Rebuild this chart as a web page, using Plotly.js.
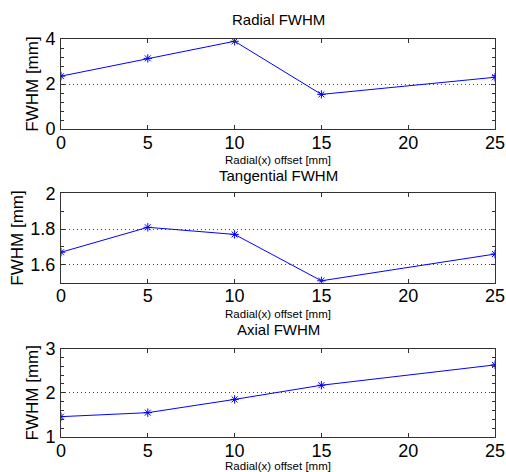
<!DOCTYPE html>
<html>
<head>
<meta charset="utf-8">
<script src="https://cdn.plot.ly/plotly-3.0.1.min.js"></script>
<style>html,body{margin:0;padding:0;background:#fff;}#chart{width:506px;height:472px;}</style>
</head>
<body>
<div id="chart"></div>
<script>
var offsets = [0, 5, 10, 15, 25];
var radialFWHM = [2.35, 3.14, 3.9, 1.54, 2.3];
var tangentialFWHM = [1.67, 1.81, 1.77, 1.51, 1.66];
var axialFWHM = [1.46, 1.55, 1.85, 2.17, 2.63];
var subplotTitles = ["Radial FWHM", "Tangential FWHM", "Axial FWHM"];
var xTitle = "Radial(x) offset [mm]";
var yTitle = "FWHM [mm]";

var font = "Liberation Sans, Arial, Helvetica, sans-serif";
var blue = "#0000ff";
var axisColor = "#333333";

function trace(y, n) {
  return {
    x: offsets, y: y, type: "scatter", mode: "lines+markers",
    xaxis: n === 1 ? "x" : "x" + n, yaxis: n === 1 ? "y" : "y" + n,
    line: {color: blue, width: 1},
    marker: {symbol: "asterisk-open", size: 7, color: blue, line: {color: blue, width: 1}},
    showlegend: false, hoverinfo: "x+y"
  };
}

function xax(anchor) {
  return {
    anchor: anchor, range: [0, 25], tickmode: "linear", tick0: 0, dtick: 5, ticks: "inside", ticklen: 4,
    tickcolor: axisColor, tickwidth: 1, showline: true, linecolor: axisColor, linewidth: 1, mirror: "ticks",
    showgrid: false, zeroline: false, tickfont: {family: font, size: 18, color: "#000"},
    ticklabelstandoff: -3,
    title: {text: xTitle, font: {family: font, size: 11.5, color: "#000"}, standoff: 4}
  };
}
function yax(anchor, domain, range, major, minor) {
  return {
    anchor: anchor, domain: domain, range: range, tickmode: "linear", tick0: 0, dtick: major,
    ticks: "inside", ticklen: 4,
    tickcolor: axisColor, tickwidth: 1, showline: true, linecolor: axisColor, linewidth: 1, mirror: "ticks",
    showgrid: true, gridcolor: "#444", griddash: "1px,3px", gridwidth: 1, zeroline: false,
    minor: {tickmode: "linear", tick0: 0, dtick: minor, ticks: "inside", ticklen: 3, tickcolor: axisColor, tickwidth: 1, showgrid: false},
    tickfont: {family: font, size: 18, color: "#000"}, ticklabelstandoff: 1,
    title: {text: yTitle, font: {family: font, size: 17, color: "#000"}, standoff: 2}
  };
}

var data = [trace(radialFWHM, 1), trace(tangentialFWHM, 2), trace(axialFWHM, 3)];

var layout = {
  width: 506, height: 472,
  margin: {l: 61, r: 11, t: 39, b: 35},
  paper_bgcolor: "#fff", plot_bgcolor: "#fff",
  font: {family: font, color: "#000"},
  xaxis: xax("y"),
  yaxis: yax("x", [0.7737, 1], [0, 4], 2, 0.4),
  xaxis2: xax("y2"),
  yaxis2: yax("x2", [0.388, 0.612], [1.5, 2], 0.2, 0.1),
  xaxis3: xax("y3"),
  yaxis3: yax("x3", [0, 0.2223], [1, 3], 1, 0.2),
  annotations: [
    {text: subplotTitles[0], xref: "paper", yref: "paper", x: 0.5, y: 1.048, xanchor: "center", yanchor: "middle", showarrow: false, font: {family: font, size: 15}},
    {text: subplotTitles[1], xref: "paper", yref: "paper", x: 0.5, y: 0.658, xanchor: "center", yanchor: "middle", showarrow: false, font: {family: font, size: 15}},
    {text: subplotTitles[2], xref: "paper", yref: "paper", x: 0.5, y: 0.269, xanchor: "center", yanchor: "middle", showarrow: false, font: {family: font, size: 15}}
  ]
};

Plotly.newPlot("chart", data, layout, {displayModeBar: false, staticPlot: true});
</script>
</body>
</html>
